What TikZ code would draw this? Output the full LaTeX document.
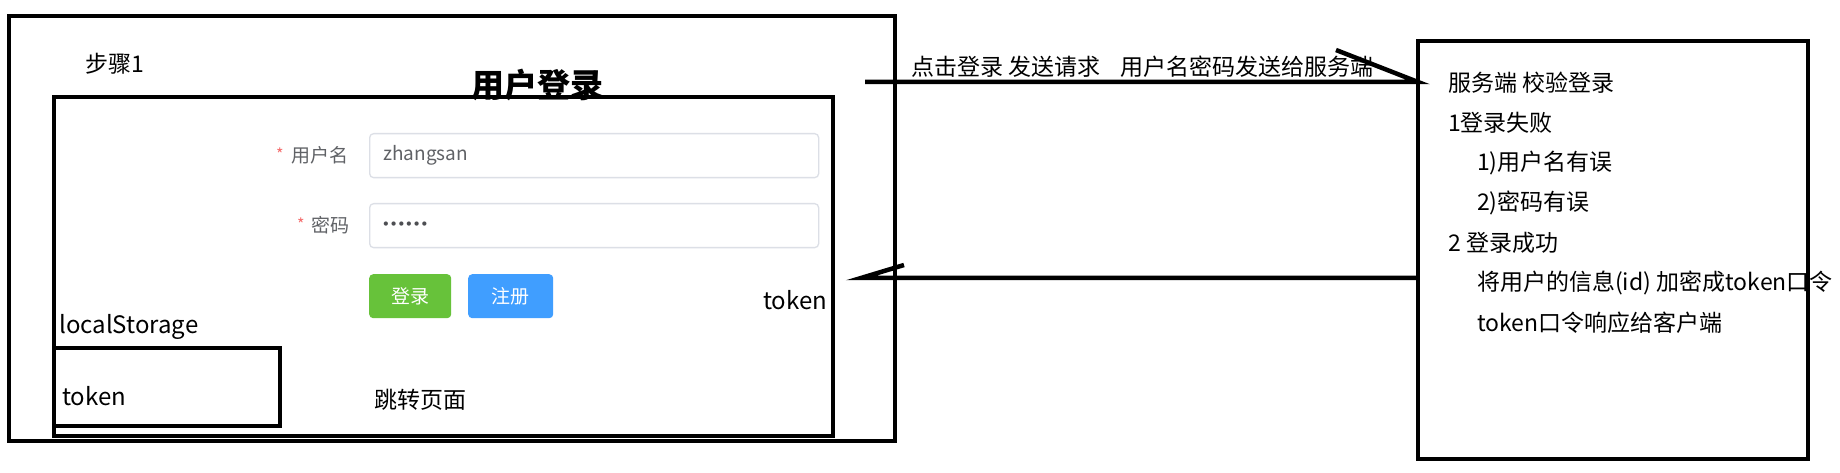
\documentclass[tikz,border=0pt]{standalone}
\usepackage{fontspec}
\setmainfont{Noto Sans CJK SC}
\newfontfamily\dejavu{DejaVu Sans}
\definecolor{formgray}{HTML}{606266}
\definecolor{formred}{HTML}{F56C6C}
\definecolor{formborder}{HTML}{DCDFE6}
\definecolor{btngreen}{HTML}{67C23A}
\definecolor{btnblue}{HTML}{409EFF}
\begin{document}
\begin{tikzpicture}[x=1pt,y=-1pt,
  frame/.style={draw=black, line width=4.5pt, inner sep=0pt, outer sep=0pt, anchor=north west},
  lbl/.style={font=\fontsize{23}{27}\selectfont, inner sep=0pt, anchor=west, text=black},
  latin/.style={font=\fontsize{24}{28}\selectfont, inner sep=0pt, anchor=west, text=black},
  formlbl/.style={font=\fontsize{19}{22}\selectfont, inner sep=0pt, anchor=west, text=formgray},
  star/.style={font=\fontsize{16}{18}\selectfont, inner sep=0pt, anchor=west, text=formred},
  inputbox/.style={draw=formborder, line width=1.3pt, rounded corners=4pt, fill=white, inner sep=0pt, anchor=north west},
  btn/.style={rounded corners=4pt, inner sep=0pt, anchor=north west, text=white, font=\fontsize{19}{22}\selectfont},
  conn/.style={draw=black, line width=4.5pt, line join=miter}]
\useasboundingbox (0,0) rectangle (1840,473);
\fill[white] (0,0) rectangle (1840,473);

% boxes
\node[frame, minimum width=886pt, minimum height=425pt] (outer) at (9,16) {};
\node[frame, minimum width=779pt, minimum height=339pt] (inner) at (54,97) {};
\node[frame, minimum width=226pt, minimum height=78pt] (ls) at (54,348) {};
\node[frame, minimum width=390pt, minimum height=418pt] (srv) at (1418,41) {};

% left texts
\node[lbl] (step) at (85,64) {步骤1};
\node[font=\bfseries\fontsize{33}{37}\selectfont, inner sep=0pt] (title) at (537,85) {用户登录};

% form
\node[star] (st1) at (276,154) {*};
\node[formlbl] (l1) at (291,155) {用户名};
\node[star] (st2) at (297,224) {*};
\node[formlbl] (l2) at (311,225) {密码};
\node[inputbox, minimum width=449pt, minimum height=44pt] (in1) at (369,133) {};
\node[inputbox, minimum width=449pt, minimum height=44pt] (in2) at (369,203) {};
\node[formlbl] (user) at (383,155) {zhangsan};
\node[inner sep=0pt, anchor=west, text=formgray!80!black, font=\dejavu\bfseries\fontsize{12}{14}\selectfont] (pw) at (382,225) {••••••};
\node[btn, fill=btngreen, minimum width=82pt, minimum height=44pt] (login) at (369,274) {登录};
\node[btn, fill=btnblue, minimum width=85pt, minimum height=44pt] (reg) at (468,274) {注册};

\node[latin] (tok1) at (763,300) {token};
\node[latin] (lsl) at (59,327) {localStorage};
\node[latin] (tok2) at (62,396) {token};
\node[lbl] (jump) at (374,400) {跳转页面};

% arrow labels
\node[lbl] (req) at (911,67) {点击登录 发送请求\hspace{20pt}用户名密码发送给服务端};

% server texts
\node[lbl] (s1) at (1448,83) {服务端 校验登录};
\node[lbl] (s2) at (1448,123) {1登录失败};
\node[lbl] (s3) at (1477,163) {1)用户名有误};
\node[lbl] (s4) at (1477,203) {2)密码有误};
\node[lbl] (s5) at (1448,243) {2 登录成功};
\node[lbl] (s6) at (1477,283) {将用户的信息(id) 加密成token口令};
\node[lbl] (s7) at (1477,323) {token口令响应给客户端};

% connectors
\coordinate (a1) at (865,82);
\coordinate (a2) at (861,278);
\draw[conn] (a1) -- (a1 -| srv.west) -- ++(-82,-32);
\draw[conn] (a2 -| srv.west) -- (a2) -- ++(43,-13);
\end{tikzpicture}
\end{document}
